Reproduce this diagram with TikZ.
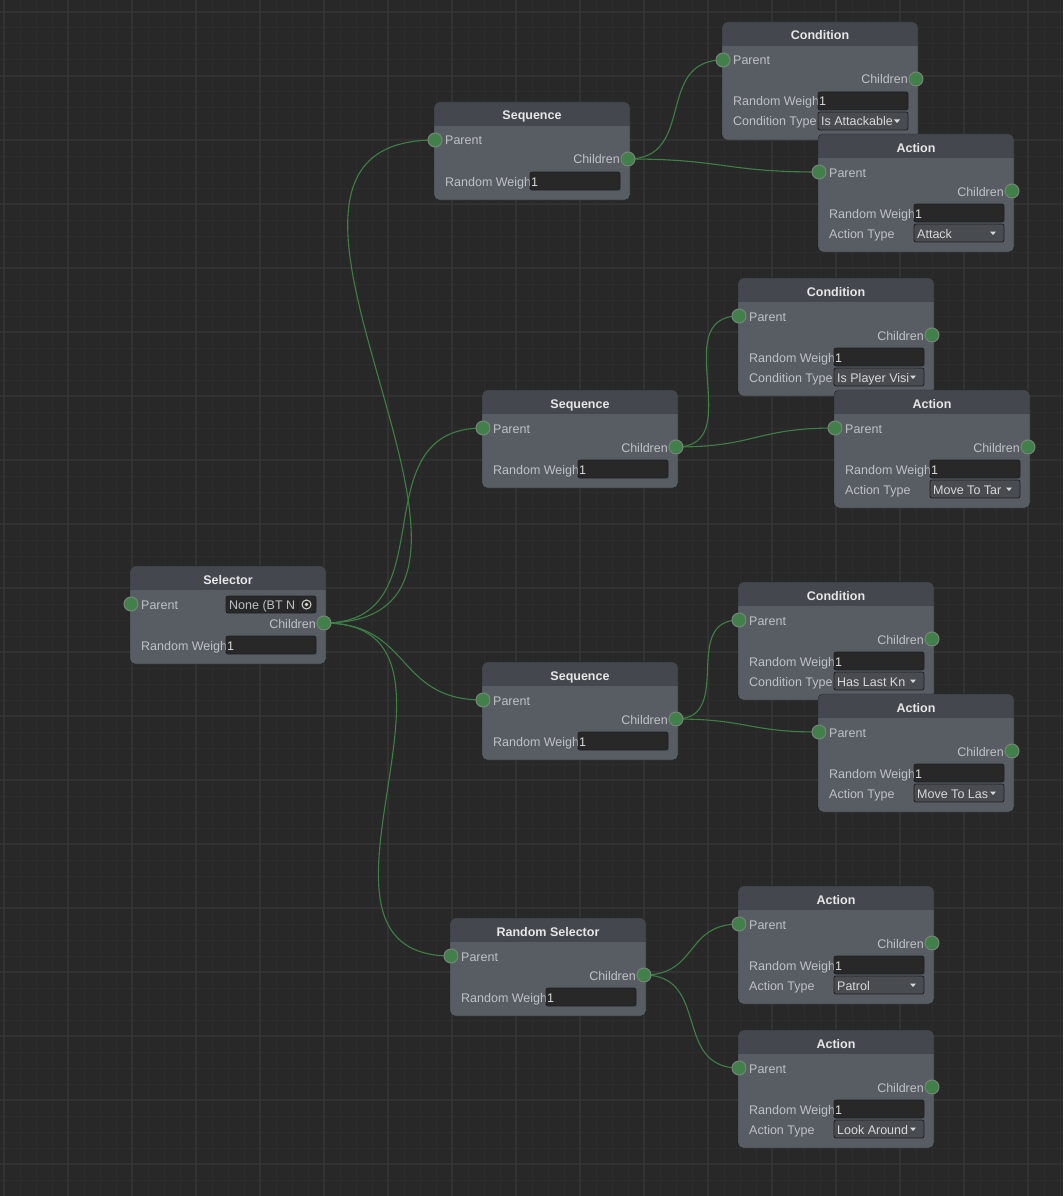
\documentclass[tikz,border=0pt]{standalone}
\usepackage{fontspec}
\setmainfont{Liberation Sans}
\usetikzlibrary{calc}
\definecolor{canvas}{RGB}{40,40,40}
\definecolor{minorline}{RGB}{45,45,45}
\definecolor{majorline}{RGB}{50,50,50}
\definecolor{bodygray}{RGB}{88,93,100}
\definecolor{headgray}{RGB}{68,72,78}
\definecolor{rimgray}{RGB}{32,32,32}
\definecolor{fielddark}{RGB}{40,40,40}
\definecolor{dropgray}{RGB}{72,75,80}
\definecolor{labelgray}{RGB}{190,193,197}
\definecolor{titlewhite}{RGB}{230,230,230}
\definecolor{valwhite}{RGB}{216,216,216}
\definecolor{portgreen}{RGB}{66,128,74}
\definecolor{portrim}{RGB}{118,132,120}
\definecolor{wiregreen}{RGB}{62,128,68}
\pgfdeclarelayer{grid}
\pgfdeclarelayer{wires}
\pgfsetlayers{grid,wires,main}

\newcommand{\btnode}[5]{%
  \begin{scope}[shift={(#2,#3)}]
    \node[panel,minimum height=#5] (#1) at (0,0) {};
    \begin{scope}
      \clip[rounded corners=5] (0,0) rectangle (196,#5);
      \fill[headgray] (0,0) rectangle (196,24);
    \end{scope}
    \draw[rimgray,rounded corners=5] (0,0) rectangle (196,#5);
    \node[titletext] (#1-title) at (98,13) {#4};
    \node[rowtext,anchor=west] (#1-plab) at (11,38) {Parent};
    \node[rowtext,anchor=east] (#1-clab) at (186,57) {Children};
    \node[rowtext,anchor=west] (#1-wlab) at (11,79) {Random Weigh};
    \draw[field] (96,70) rectangle (186,88);
    \node[valtext,anchor=west] (#1-wval) at (97,79) {1};
    \node[port] (#1-in) at (1,38) {};
    \node[port] (#1-out) at (194,57) {};
  \end{scope}}

\newcommand{\typerow}[3]{%
  \begin{scope}[shift={(#1.north west)}]
    \node[rowtext,anchor=west] (#1-tlab) at (11,99) {#2};
    \draw[dropbox] (96,90) rectangle (186,108);
    \begin{scope}
      \clip (96,90) rectangle (170,108);
      \node[valtext,anchor=west] (#1-tval) at (99,99) {#3};
    \end{scope}
    \fill[valwhite] (172,97.5) -- (178,97.5) -- (175,101) -- cycle;
  \end{scope}}

\newcommand{\wire}[2]{%
  \draw[wire] let \p1=(#1.center), \p2=(#2.center),
    \n1={veclen(\x2-\x1,\y2-\y1)/2} in
    (\p1) .. controls +(\n1,0) and +(-\n1,0) .. (\p2);}

\begin{document}
\begin{tikzpicture}[x=1pt,y=-1pt,
    panel/.style={anchor=north west,fill=bodygray,rounded corners=5pt,
                  minimum width=196pt,inner sep=0pt,outer sep=0pt},
    titletext/.style={text=titlewhite,inner sep=0pt,text height=10pt,text depth=0pt,
                      font=\fontsize{12.5pt}{15pt}\selectfont\bfseries},
    rowtext/.style={text=labelgray,inner sep=0pt,text height=10pt,text depth=0pt,
                    font=\fontsize{12.5pt}{15pt}\selectfont},
    valtext/.style={text=valwhite,inner sep=0pt,text height=10pt,text depth=0pt,
                    font=\fontsize{12.5pt}{15pt}\selectfont},
    field/.style={fill=fielddark,draw=rimgray,line width=0.8pt,rounded corners=2pt},
    dropbox/.style={fill=dropgray,draw=rimgray,line width=0.8pt,rounded corners=2pt},
    port/.style={circle,minimum size=14pt,inner sep=0pt,fill=portgreen,
                 draw=portrim,line width=1pt},
    wire/.style={wiregreen,line width=1.1pt}]
  \useasboundingbox (0,0) rectangle (1063,1196);
  \begin{pgfonlayer}{grid}
    \fill[canvas] (0,0) rectangle (1063,1196);
    \foreach \gx in {4,20,...,1063} \draw[minorline,line width=1pt] (\gx,0) -- (\gx,1196);
    \foreach \gy in {12,28,...,1196} \draw[minorline,line width=1pt] (0,\gy) -- (1063,\gy);
    \foreach \gx in {4,68,...,1063} \draw[majorline,line width=1.2pt] (\gx,0) -- (\gx,1196);
    \foreach \gy in {12,76,...,1196} \draw[majorline,line width=1.2pt] (0,\gy) -- (1063,\gy);
  \end{pgfonlayer}

  \btnode{sel}{130}{566}{Selector}{98}
  \begin{scope}[shift={(sel.north west)}]
    \draw[field] (96,30) rectangle (186,47);
    \begin{scope}
      \clip (96,30) rectangle (166,47);
      \node[valtext,anchor=west,text=labelgray] (sel-pval) at (99,38.5) {None (BT N};
    \end{scope}
    \draw[rimgray] (167,30) -- (167,47);
    \draw[valwhite,line width=1pt] (176.5,38.5) circle (4.5);
    \fill[valwhite] (176.5,38.5) circle (1.8);
  \end{scope}

  \btnode{seq1}{434}{102}{Sequence}{98}
  \btnode{cond1}{722}{22}{Condition}{118}
  \typerow{cond1}{Condition Type}{Is Attackable}
  \btnode{act1}{818}{134}{Action}{118}
  \typerow{act1}{Action Type}{Attack}

  \btnode{seq2}{482}{390}{Sequence}{98}
  \btnode{cond2}{738}{278}{Condition}{118}
  \typerow{cond2}{Condition Type}{Is Player Visi}
  \btnode{act2}{834}{390}{Action}{118}
  \typerow{act2}{Action Type}{Move To Tar}

  \btnode{seq3}{482}{662}{Sequence}{98}
  \btnode{cond3}{738}{582}{Condition}{118}
  \typerow{cond3}{Condition Type}{Has Last Kn}
  \btnode{act3}{818}{694}{Action}{118}
  \typerow{act3}{Action Type}{Move To Las}

  \btnode{rsel}{450}{918}{Random Selector}{98}
  \btnode{act4}{738}{886}{Action}{118}
  \typerow{act4}{Action Type}{Patrol}
  \btnode{act5}{738}{1030}{Action}{118}
  \typerow{act5}{Action Type}{Look Around}

  \begin{pgfonlayer}{wires}
    \wire{sel-out}{seq1-in}
    \wire{sel-out}{seq2-in}
    \wire{sel-out}{seq3-in}
    \wire{sel-out}{rsel-in}
    \wire{seq1-out}{cond1-in}
    \wire{seq1-out}{act1-in}
    \wire{seq2-out}{cond2-in}
    \wire{seq2-out}{act2-in}
    \wire{seq3-out}{cond3-in}
    \wire{seq3-out}{act3-in}
    \wire{rsel-out}{act4-in}
    \wire{rsel-out}{act5-in}
  \end{pgfonlayer}
\end{tikzpicture}
\end{document}
